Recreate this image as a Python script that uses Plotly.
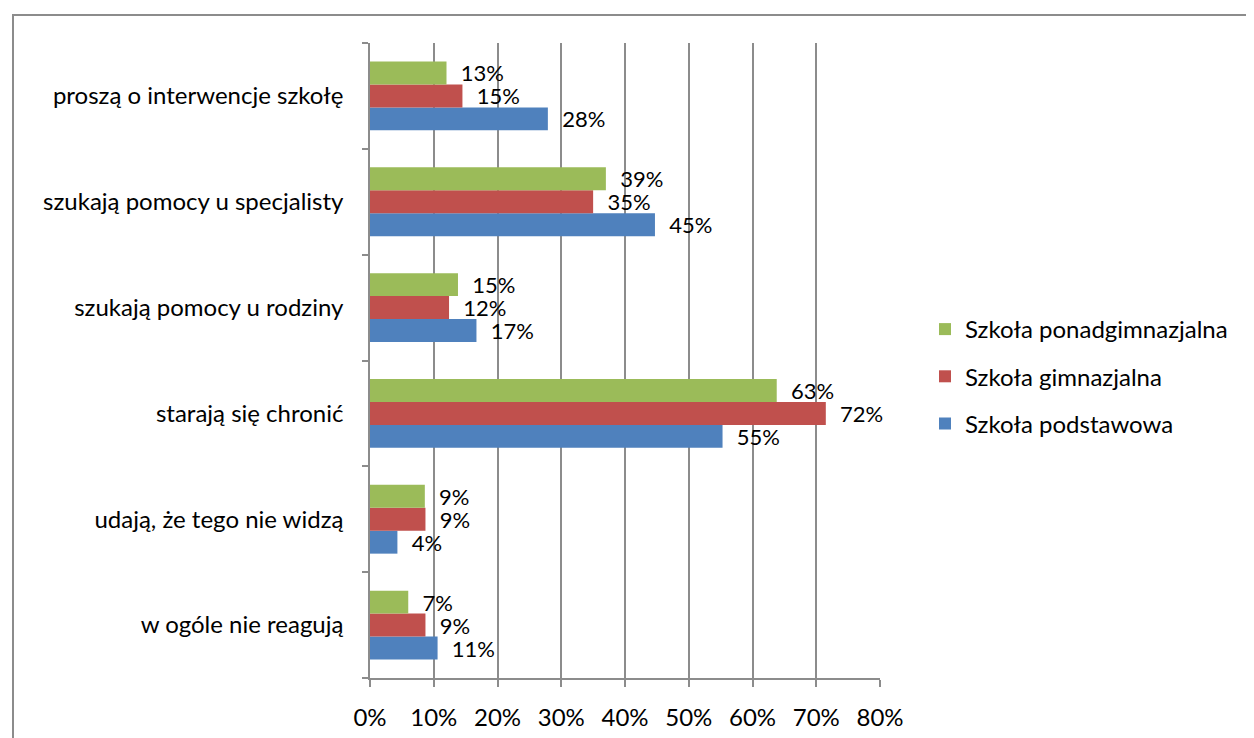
import plotly.graph_objects as go

categories = ["w ogóle nie reagują", "udają, że tego nie widzą", "starają się chronić",
              "szukają pomocy u rodziny", "szukają pomocy u specjalisty", "proszą o interwencje szkołę"]

podstawowa = [10.6, 4.3, 55.3, 16.7, 44.7, 27.9]
gimnazjalna = [8.7, 8.7, 71.5, 12.4, 35.0, 14.5]
ponadgimnazjalna = [6.0, 8.6, 63.8, 13.8, 37.0, 12.0]

podstawowa_labels = ["11%", "4%", "55%", "17%", "45%", "28%"]
gimnazjalna_labels = ["9%", "9%", "72%", "12%", "35%", "15%"]
ponadgimnazjalna_labels = ["7%", "9%", "63%", "15%", "39%", "13%"]

series = [
    ("Szkoła podstawowa", podstawowa, podstawowa_labels, "#4F81BD", 3),
    ("Szkoła gimnazjalna", gimnazjalna, gimnazjalna_labels, "#C0504D", 2),
    ("Szkoła ponadgimnazjalna", ponadgimnazjalna, ponadgimnazjalna_labels, "#9BBB59", 1),
]

FONT = "Lato"
FS = 24
fig = go.Figure()
for name, vals, labels, color, rank in series:
    fig.add_trace(go.Bar(
        y=categories, x=vals, name=name, orientation="h",
        marker=dict(color=color, line=dict(width=0)),
        text=["  " + t for t in labels], textposition="outside",
        constraintext="none", cliponaxis=False,
        textfont=dict(family=FONT, size=22, color="#000000"),
        legendgroup=name, legendrank=rank, hoverinfo="skip",
    ))

OFF = 8  # page body margin
W, H = 1254, 738
L, T = 362, 35
pw, ph = 510, 635
R = W - L - pw
B = H - T - ph

def px_x(p):
    return (p - OFF - L) / pw

def px_y(p):
    return (T + ph - (p - OFF)) / ph

fig.update_layout(
    width=W, height=H,
    margin=dict(l=L, r=R, t=T, b=B),
    paper_bgcolor="white", plot_bgcolor="white",
    barmode="group", bargap=0.35, bargroupgap=0,
    font=dict(family=FONT, size=FS, color="#000000"),
    showlegend=True,
    legend=dict(
        x=px_x(925), y=px_y(307), xanchor="left", yanchor="top",
        traceorder="grouped", tracegroupgap=13,
        font=dict(family=FONT, size=FS, color="#000000"),
        itemwidth=30,
    ),
    xaxis=dict(
        range=[0, 80], dtick=10, ticksuffix="%",
        showgrid=True, gridcolor="#8C8C8C", gridwidth=1.5,
        showline=True, linecolor="#8C8C8C", linewidth=1.5,
        ticks="outside", ticklen=7, tickcolor="#8C8C8C", tickwidth=1.5,
        ticklabelstandoff=10,
        tickfont=dict(family=FONT, size=FS),
        zeroline=False, fixedrange=True,
    ),
    yaxis=dict(
        type="category",
        showgrid=False,
        showline=True, linecolor="#8C8C8C", linewidth=1.5,
        ticks="outside", ticklen=6, tickcolor="#8C8C8C", tickwidth=1.5,
        tickson="boundaries",
        ticklabelstandoff=20,
        tickfont=dict(family=FONT, size=FS),
        zeroline=False, fixedrange=True,
    ),
    shapes=[
        dict(type="line", xref="paper", yref="paper",
             x0=px_x(13), x1=px_x(13), y0=px_y(15), y1=px_y(800),
             line=dict(color="#8C8C8C", width=2)),
        dict(type="line", xref="paper", yref="paper",
             x0=px_x(12), x1=px_x(1300), y0=px_y(15), y1=px_y(15),
             line=dict(color="#8C8C8C", width=2)),
    ],
)

fig.write_html("out.html")
